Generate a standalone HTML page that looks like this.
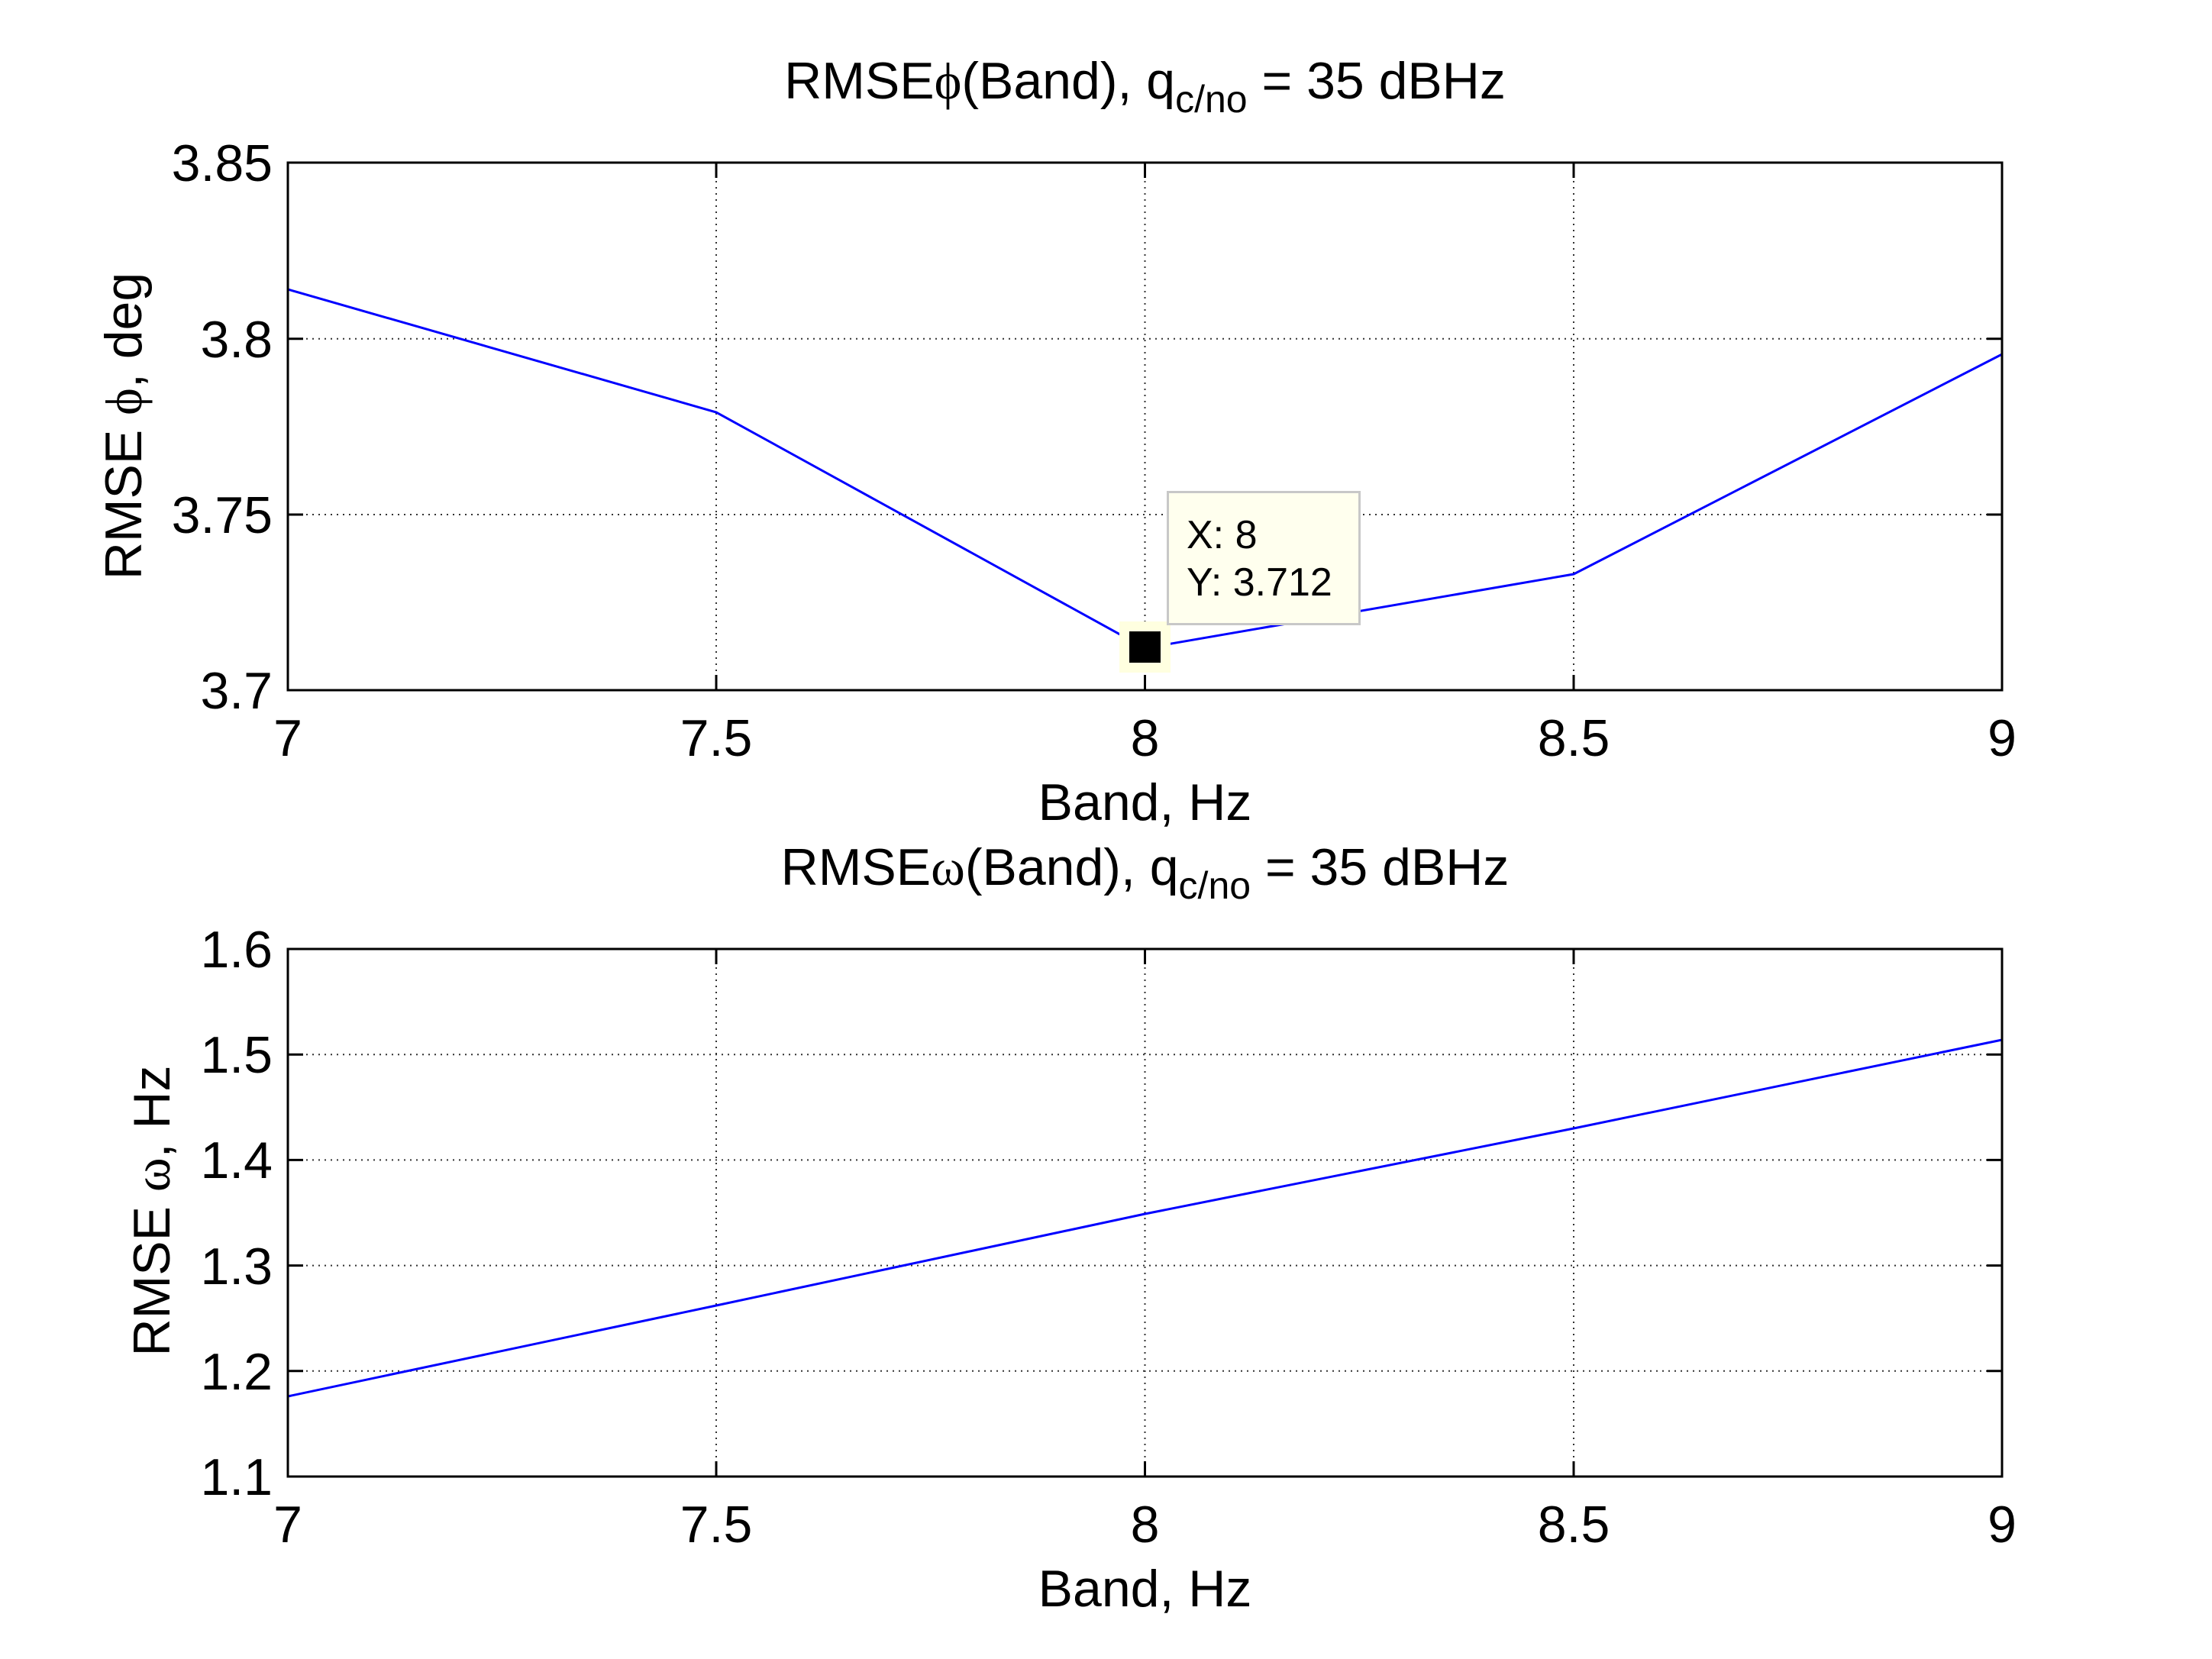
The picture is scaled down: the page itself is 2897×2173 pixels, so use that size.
<!DOCTYPE html>
<html><head><meta charset="utf-8"><style>
html,body{margin:0;padding:0;background:#fff;}
svg{display:block;}
text{font-family:"Liberation Sans",Arial,sans-serif;fill:#000;}
.t{font-size:68px;}
.g{stroke:#333;stroke-width:2;stroke-dasharray:2 6;}
.ax{fill:none;stroke:#000;stroke-width:3;}
.tk{stroke:#000;stroke-width:3;}
.ln{fill:none;stroke:#0000ff;stroke-width:3;}
.sym{font-family:"Liberation Serif","DejaVu Serif",serif;}
</style></head><body>
<svg width="2897" height="2173" viewBox="0 0 2897 2173" xmlns="http://www.w3.org/2000/svg">
<rect width="2897" height="2173" fill="#fff"/>

<!-- ===== TOP AXES ===== -->
<g>
<line class="g" x1="938" y1="213" x2="938" y2="904"/>
<line class="g" x1="1499.5" y1="213" x2="1499.5" y2="904"/>
<line class="g" x1="2061" y1="213" x2="2061" y2="904"/>
<line class="g" x1="377" y1="443.7" x2="2622" y2="443.7"/>
<line class="g" x1="377" y1="674" x2="2622" y2="674"/>
<!-- ticks -->
<g class="tk">
<line x1="938" y1="904" x2="938" y2="884"/><line x1="938" y1="213" x2="938" y2="233"/>
<line x1="1499.5" y1="904" x2="1499.5" y2="884"/><line x1="1499.5" y1="213" x2="1499.5" y2="233"/>
<line x1="2061" y1="904" x2="2061" y2="884"/><line x1="2061" y1="213" x2="2061" y2="233"/>
<line x1="377" y1="443.7" x2="397" y2="443.7"/><line x1="2622" y1="443.7" x2="2602" y2="443.7"/>
<line x1="377" y1="674" x2="397" y2="674"/><line x1="2622" y1="674" x2="2602" y2="674"/>
</g>
<polyline class="ln" points="377,379 938,540 1499.5,849 2061,752 2622,464"/>
<rect class="ax" x="377" y="213" width="2245" height="691"/>
<g class="t" text-anchor="end">
<text x="357" y="237">3.85</text>
<text x="357" y="468">3.8</text>
<text x="357" y="698">3.75</text>
<text x="357" y="928">3.7</text>
</g>
<g class="t" text-anchor="middle">
<text x="377" y="990">7</text>
<text x="938" y="990">7.5</text>
<text x="1499.5" y="990">8</text>
<text x="2061" y="990">8.5</text>
<text x="2622" y="990">9</text>
<text x="1499.5" y="1074">Band, Hz</text>
</g>
<text class="t" text-anchor="middle" transform="translate(185,558) rotate(-90)">RMSE <tspan class="sym">ϕ</tspan>, deg</text>
<text class="t" text-anchor="middle" x="1499.5" y="129">RMSE<tspan class="sym">ϕ</tspan>(Band), q<tspan font-size="50" dy="18">c/no</tspan><tspan dy="-18"> = 35 dBHz</tspan></text>

<!-- datatip -->
<rect x="1466" y="814" width="67" height="67" fill="#ffffe0"/>
<rect x="1479" y="827" width="41" height="41" fill="#000"/>
<rect x="1529.5" y="644.5" width="251" height="173" fill="#ffffee" stroke="#c8c8c8" stroke-width="3"/>
<text x="1554" y="718" font-size="52">X: 8</text>
<text x="1554" y="780" font-size="52">Y: 3.712</text>
</g>

<!-- ===== BOTTOM AXES ===== -->
<g>
<line class="g" x1="938" y1="1243" x2="938" y2="1934"/>
<line class="g" x1="1499.5" y1="1243" x2="1499.5" y2="1934"/>
<line class="g" x1="2061" y1="1243" x2="2061" y2="1934"/>
<line class="g" x1="377" y1="1381.2" x2="2622" y2="1381.2"/>
<line class="g" x1="377" y1="1519.4" x2="2622" y2="1519.4"/>
<line class="g" x1="377" y1="1657.6" x2="2622" y2="1657.6"/>
<line class="g" x1="377" y1="1795.8" x2="2622" y2="1795.8"/>
<g class="tk">
<line x1="938" y1="1934" x2="938" y2="1914"/><line x1="938" y1="1243" x2="938" y2="1263"/>
<line x1="1499.5" y1="1934" x2="1499.5" y2="1914"/><line x1="1499.5" y1="1243" x2="1499.5" y2="1263"/>
<line x1="2061" y1="1934" x2="2061" y2="1914"/><line x1="2061" y1="1243" x2="2061" y2="1263"/>
<line x1="377" y1="1381.2" x2="397" y2="1381.2"/><line x1="2622" y1="1381.2" x2="2602" y2="1381.2"/>
<line x1="377" y1="1519.4" x2="397" y2="1519.4"/><line x1="2622" y1="1519.4" x2="2602" y2="1519.4"/>
<line x1="377" y1="1657.6" x2="397" y2="1657.6"/><line x1="2622" y1="1657.6" x2="2602" y2="1657.6"/>
<line x1="377" y1="1795.8" x2="397" y2="1795.8"/><line x1="2622" y1="1795.8" x2="2602" y2="1795.8"/>
</g>
<polyline class="ln" points="377,1829 938,1710 1499.5,1590 2061,1478 2622,1362"/>
<rect class="ax" x="377" y="1243" width="2245" height="691"/>
<g class="t" text-anchor="end">
<text x="357" y="1267">1.6</text>
<text x="357" y="1405">1.5</text>
<text x="357" y="1543">1.4</text>
<text x="357" y="1682">1.3</text>
<text x="357" y="1820">1.2</text>
<text x="357" y="1958">1.1</text>
</g>
<g class="t" text-anchor="middle">
<text x="377" y="2020">7</text>
<text x="938" y="2020">7.5</text>
<text x="1499.5" y="2020">8</text>
<text x="2061" y="2020">8.5</text>
<text x="2622" y="2020">9</text>
<text x="1499.5" y="2104">Band, Hz</text>
</g>
<text class="t" text-anchor="middle" transform="translate(222,1586) rotate(-90)">RMSE <tspan class="sym">ω</tspan>, Hz</text>
<text class="t" text-anchor="middle" x="1499.5" y="1159">RMSE<tspan class="sym">ω</tspan>(Band), q<tspan font-size="50" dy="18">c/no</tspan><tspan dy="-18"> = 35 dBHz</tspan></text>
</g>
</svg>
</body></html>
